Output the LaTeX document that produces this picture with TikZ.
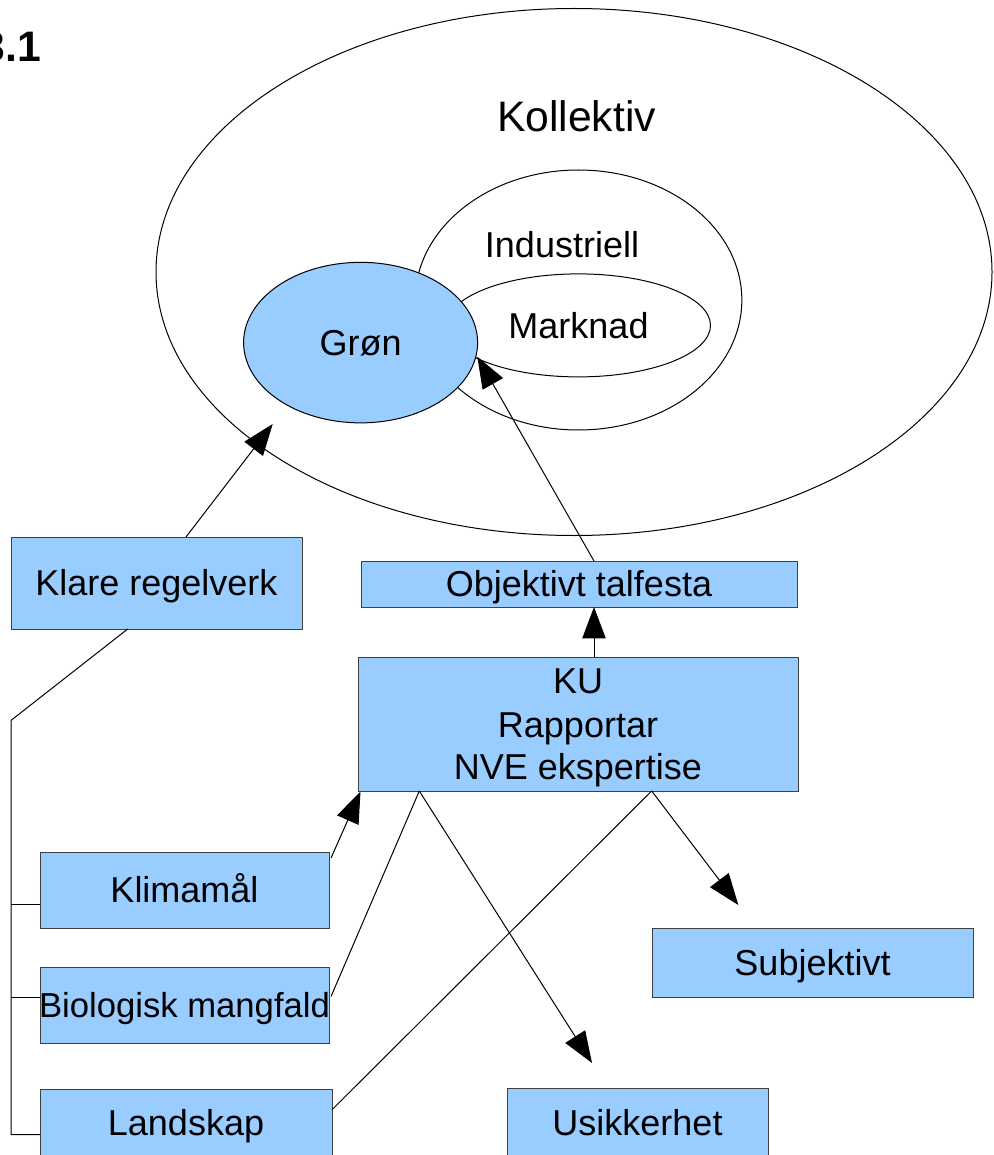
\documentclass[tikz,border=0pt]{standalone}
\usepackage{fontspec}
\setmainfont{Liberation Sans}
\usetikzlibrary{arrows.meta,shapes.geometric,calc}
\definecolor{boxblue}{HTML}{99CCFF}
\begin{document}
\begin{tikzpicture}[x=0.75pt,y=-0.75pt,
  every node/.style={inner sep=0pt, outer sep=0pt},
  txt/.style={font=\fontsize{27pt}{32pt}\selectfont, text height=19.3pt, text depth=0pt},
  box/.style={txt, rectangle, draw=black!75, line width=0.75pt, fill=boxblue},
  oval/.style={ellipse, draw=black, line width=0.75pt},
  conn/.style={draw=black, line width=0.75pt},
  arr/.style={conn, -{Triangle[length=23.5pt,width=17.5pt]}}]
\useasboundingbox (0,0) rectangle (994,1155);

% heading
\node[font=\fontsize{32pt}{38pt}\selectfont\bfseries, anchor=base east] (head) at (41,62) {3.1};

% ellipses
\node[oval, minimum width=627pt, minimum height=395.25pt] (koll) at (574,272) {};
\node[oval, minimum width=245pt, minimum height=195pt] (ind) at (578.5,300) {};
\node[oval, txt, minimum width=198pt, minimum height=77.25pt] (mark) at (578.5,325.4) {Marknad};
\node[oval, txt, fill=boxblue, minimum width=175.5pt, minimum height=120.4pt] (gron) at (360.6,342.6) {Grøn};
\node[font=\fontsize{32pt}{38pt}\selectfont, anchor=base] (kolltxt) at (576.5,132) {Kollektiv};
\node[txt, anchor=base] (indtxt) at (562,258) {Industriell};

% boxes
\node[box, minimum width=218.25pt, minimum height=69pt] (klare) at (156.5,583) {Klare regelverk};
\node[box, minimum width=327pt, minimum height=34.5pt] (obj) at (579,584) {Objektivt talfesta};
\node[box, minimum width=330pt, minimum height=100.5pt] (ku) at (578,724) {};
\node[txt, anchor=base] (kuA) at (578,693.5) {KU};
\node[txt, anchor=base] (kuB) at (578,737.5) {Rapportar};
\node[txt, anchor=base] (kuC) at (578,779.5) {NVE ekspertise};
\node[box, minimum width=240.75pt, minimum height=51.75pt] (subj) at (812.5,962.5) {Subjektivt};
\node[box, minimum width=195.75pt, minimum height=51.75pt] (usik) at (637.5,1122.5) {Usikkerhet};
\node[box, minimum width=216.75pt, minimum height=57pt] (klima) at (184.5,890) {Klimamål};
\node[box, minimum width=216.75pt, minimum height=57pt] (bio) at (184.5,1005) {\makebox[0pt]{\fontsize{26pt}{31pt}\selectfont Biologisk mangfald}};
\node[box, minimum width=219pt, minimum height=51pt] (land) at (186,1123) {Landskap};

% free ends of arrows and attachment points
\coordinate (tipKlare) at (272.7,424);
\coordinate (tipObj) at (477.3,356.7);
\coordinate (tipUsik) at (592,1063);
\coordinate (tipSubj) at (738.3,905);
\coordinate (kuTop) at ($(ku.north west)+(236,0)$);
\coordinate (kuL) at ($(ku.south west)+(61.3,0)$);
\coordinate (kuR) at ($(ku.south west)+(293.7,0)$);

% arrows
\draw[arr] ($(klare.north west)+(175,0)$) -- (tipKlare);
\draw[arr] ($(obj.north west)+(233,0)$) -- (tipObj);
\draw[arr] (kuTop) -- (kuTop |- obj.south);
\draw[arr] ($(klima.north east)+(2,6)$) -- ($(ku.south west)+(2.5,0.5)$);
\draw[arr] (kuL) -- (tipUsik);
\draw[arr] (kuR) -- (tipSubj);

% plain connectors
\draw[conn] ($(bio.north east)+(2,29.5)$) -- (kuL);
\draw[conn] ($(land.north east)+(0,20.7)$) -- (kuR);

% left tree
\coordinate (jn) at ($(klare.south west)+(0,91.4)$);
\coordinate (bKlima) at ($(klima.north west)+(0,52.4)$);
\coordinate (bBio) at ($(bio.north west)+(0,30)$);
\coordinate (bLand) at ($(land.north west)+(0,45.5)$);
\draw[conn] ($(klare.south west)+(116.7,0)$) -- (jn) |- (bLand);
\draw[conn] (bKlima -| jn) -- (bKlima);
\draw[conn] (bBio -| jn) -- (bBio);
\end{tikzpicture}
\end{document}
